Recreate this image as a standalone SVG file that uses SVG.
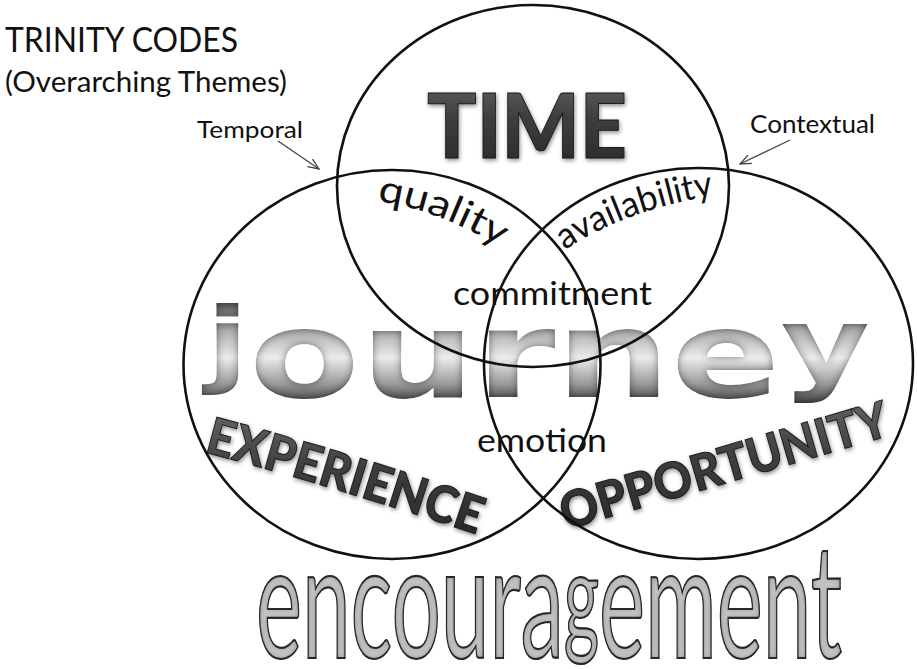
<svg xmlns="http://www.w3.org/2000/svg" width="917" height="669" viewBox="0 0 917 669">
<defs>
<style>
.lbl{font-family:Lato,"Liberation Sans",sans-serif;fill:#111}
.ring{fill:none;stroke:#111;stroke-width:2.6}
.arrow{stroke:#444;stroke-width:1.3;fill:none}
.dark{font-family:Lato,"Liberation Sans",sans-serif;font-weight:900;fill:url(#gDark);stroke:#1a1a1a;stroke-width:1;filter:url(#shadow)}
.metal{font-family:"DejaVu Sans",Verdana,sans-serif;font-weight:bold;font-size:122px;fill:url(#gMetal);filter:url(#inner)}
.emb{font-family:Lato,"Liberation Sans",sans-serif;font-size:160px;fill:#c2c2c2;stroke:#2e2e2e;stroke-width:2.2;filter:url(#inner2)}
</style>
<linearGradient id="gDark" x1="0" y1="0" x2="0" y2="1">
<stop offset="0" stop-color="#6a6a6a"/><stop offset="0.45" stop-color="#3e3e3e"/><stop offset="1" stop-color="#262626"/>
</linearGradient>
<linearGradient id="gMetal" gradientUnits="userSpaceOnUse" x1="0" y1="300" x2="0" y2="405">
<stop offset="0" stop-color="#555"/><stop offset="0.3" stop-color="#b0b0b0"/><stop offset="0.55" stop-color="#ececec"/><stop offset="0.8" stop-color="#9a9a9a"/><stop offset="1" stop-color="#3c3c3c"/>
</linearGradient>
<filter id="shadow" x="-10%" y="-30%" width="120%" height="160%">
<feDropShadow dx="1" dy="2" stdDeviation="2.2" flood-color="#000" flood-opacity="0.45"/>
</filter>
<filter id="inner" x="-10%" y="-10%" width="120%" height="120%">
<feGaussianBlur in="SourceAlpha" stdDeviation="4" result="b"/>
<feComposite in="SourceAlpha" in2="b" operator="arithmetic" k2="1" k3="-1" result="edge"/>
<feFlood flood-color="#2a2a2a"/>
<feComposite in2="edge" operator="in" result="sh"/>
<feMerge><feMergeNode in="SourceGraphic"/><feMergeNode in="sh"/></feMerge>
</filter>
<filter id="inner2" x="-10%" y="-10%" width="120%" height="120%">
<feGaussianBlur in="SourceAlpha" stdDeviation="2.5" result="b"/>
<feComposite in="SourceAlpha" in2="b" operator="arithmetic" k2="1" k3="-1" result="edge"/>
<feFlood flood-color="#222"/>
<feComposite in2="edge" operator="in" result="sh"/>
<feMerge><feMergeNode in="SourceGraphic"/><feMergeNode in="sh"/></feMerge>
</filter>
<marker id="arr" viewBox="0 0 13 11" refX="12" refY="5.5" markerWidth="13" markerHeight="11" markerUnits="userSpaceOnUse" orient="auto">
<path d="M1,1 L12,5.5 L1,10" fill="none" stroke="#444" stroke-width="1.3"/>
</marker>
<path id="pQuality" d="M377 201 Q440 210 505 250"/>
<path id="pAvail" d="M565 250 Q625 210 716 195"/>
<path id="pExp" d="M204 452 Q340 488 487 538"/>
<path id="pOpp" d="M566 530 Q730 482 902 432"/>
</defs>
<rect width="917" height="669" fill="#fff"/>

<g id="title">
<text class="lbl" x="5" y="52" font-size="34" textLength="233" lengthAdjust="spacingAndGlyphs">TRINITY CODES</text>
<text class="lbl" x="5" y="92" font-size="29" textLength="282" lengthAdjust="spacingAndGlyphs">(Overarching Themes)</text>
</g>

<g id="word-journey">
<text class="metal" x="206" y="397" textLength="664" lengthAdjust="spacingAndGlyphs"><tspan font-size="94" dy="-22">j</tspan><tspan dy="22">ourne</tspan><tspan font-size="103" dy="-16">y</tspan></text>
</g>

<g id="word-encouragement">
<text class="emb" x="256" y="658" textLength="586" lengthAdjust="spacingAndGlyphs">encoura<tspan font-size="125" dy="-17">g</tspan><tspan dy="17">ement</tspan></text>
</g>

<g id="node-time">
<text class="dark" x="427" y="158" font-size="90" textLength="200" lengthAdjust="spacingAndGlyphs">TIME</text>
</g>

<g id="node-experience">
<text class="dark" font-size="51"><textPath href="#pExp" textLength="285" lengthAdjust="spacingAndGlyphs">EXPERIENCE</textPath></text>
</g>

<g id="node-opportunity">
<text class="dark" font-size="50"><textPath href="#pOpp" textLength="340" lengthAdjust="spacingAndGlyphs">OPPORTUNITY</textPath></text>
</g>

<g id="overlap-quality">
<text class="lbl" font-size="38"><textPath href="#pQuality" textLength="132" lengthAdjust="spacingAndGlyphs">quality</textPath></text>
</g>

<g id="overlap-availability">
<text class="lbl" font-size="36"><textPath href="#pAvail" textLength="160" lengthAdjust="spacingAndGlyphs">availability</textPath></text>
</g>

<g id="overlap-commitment">
<text class="lbl" x="453" y="305" font-size="33" textLength="199" lengthAdjust="spacingAndGlyphs">commitment</text>
</g>

<g id="overlap-emotion">
<text class="lbl" x="477" y="452" font-size="33" textLength="130" lengthAdjust="spacingAndGlyphs">emotion</text>
</g>

<g id="circle-time"><ellipse class="ring" cx="533" cy="186" rx="196" ry="181"/></g>
<g id="circle-experience"><ellipse class="ring" cx="392" cy="364.5" rx="208.5" ry="194.5"/></g>
<g id="circle-opportunity"><ellipse class="ring" cx="698.5" cy="363.5" rx="214.5" ry="195.5"/></g>

<g id="label-temporal">
<text class="lbl" x="197" y="138" font-size="23" textLength="106" lengthAdjust="spacingAndGlyphs">Temporal</text>
</g>
<g id="label-contextual">
<text class="lbl" x="750" y="133" font-size="25" textLength="125" lengthAdjust="spacingAndGlyphs">Contextual</text>
</g>

<g id="connectors">
<line class="arrow" x1="278" y1="141" x2="319" y2="169" marker-end="url(#arr)"/>
<line class="arrow" x1="790" y1="140" x2="740" y2="164" marker-end="url(#arr)"/>
</g>
</svg>
